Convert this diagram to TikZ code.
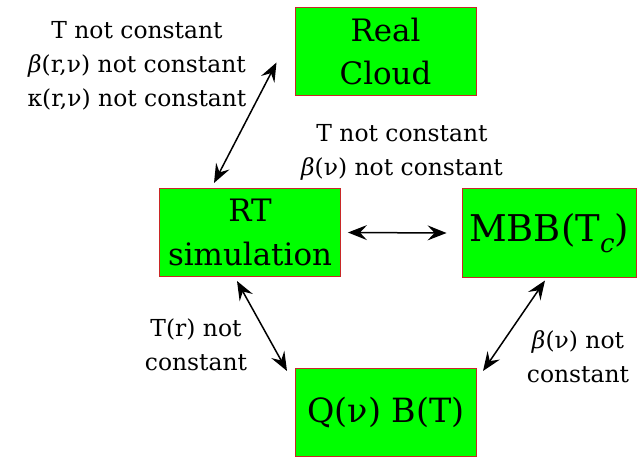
\documentclass[tikz,border=0pt]{standalone}
\usepackage{fontspec}
\setmainfont{DejaVu Serif}
\usetikzlibrary{arrows.meta}
\definecolor{boxgreen}{RGB}{0,255,0}
\definecolor{boxred}{RGB}{200,40,40}
\newcommand{\bet}{\textit{β}}
\tikzset{
  box/.style={draw=boxred, line width=1bp, fill=boxgreen, minimum width=181bp, minimum height=88bp, inner sep=0pt, align=center},
  lbl/.style={align=center, inner sep=0pt, font=\fontsize{23.5}{34}\selectfont},
  link/.style={line width=1.5bp, {Stealth[length=19bp,width=15bp,inset=7bp]}-{Stealth[length=19bp,width=15bp,inset=7bp]}}
}
\begin{document}
\begin{tikzpicture}[x=1bp,y=-1bp]
\useasboundingbox (0,0) rectangle (637,459);
\fill[white] (0,0) rectangle (637,459);
\node[box, font=\fontsize{31}{44}\selectfont] (cloud) at (385.5,51.5) {Real\\Cloud};
\node[box, font=\fontsize{31}{44}\selectfont] (rt) at (250,232.5) {RT\\simulation};
\node[box, minimum width=174bp, font=\fontsize{37}{43}\selectfont] (mbb) at (549,233) {MBB(T\raisebox{-0.3em}{\fontsize{26}{26}\selectfont\textit{c}})};
\node[box, font=\fontsize{33.5}{43}\selectfont] (q) at (386,412.5) {Q(ν) B(T)};
\draw[link] ([shift={(-18,11)}]cloud.west) -- ([shift={(-36,-5)}]rt.north);
\draw[link] ([xshift=7]rt.east) -- ([xshift=-15]mbb.west);
\draw[link] ([shift={(-13,4)}]rt.south) -- ([shift={(-8,3)}]q.north west);
\draw[link] ([shift={(-4,3)}]mbb.south) -- ([shift={(6,3)}]q.north east);
\node[lbl] (l1) at (137,66) {T not constant\\\bet(r,ν) not constant\\κ(r,ν) not constant};
\node[lbl] (l2) at (402,152) {T not constant\\\bet(ν) not constant};
\node[lbl] (l3) at (196,345) {T(r) not\\constant};
\node[lbl] (l4) at (578,357) {\bet(ν) not\\constant};
\end{tikzpicture}
\end{document}
